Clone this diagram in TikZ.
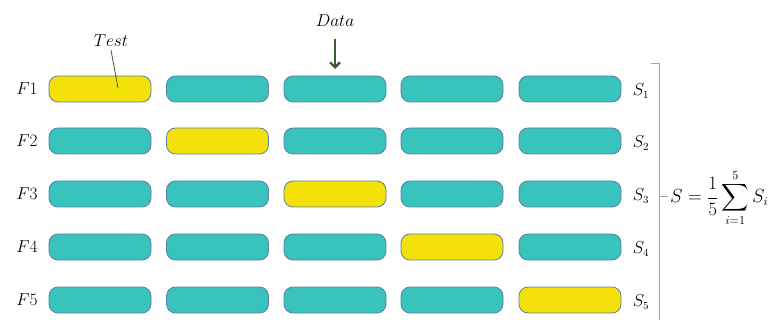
\documentclass[tikz,border=0pt]{standalone}
\usepackage{amsmath}
\usetikzlibrary{arrows.meta}
\definecolor{teal1}{HTML}{38C3BD}
\definecolor{yel1}{HTML}{F5E10A}
\definecolor{bord}{HTML}{5A7FA8}
\definecolor{arrgreen}{HTML}{3A5F2C}
\definecolor{brk}{HTML}{A6A6A6}
\begin{document}
\begin{tikzpicture}[x=1pt,y=-1pt,
  fold/.style={draw=bord, line width=0.8pt, rounded corners=9pt, minimum width=102pt, minimum height=26pt, inner sep=0pt, fill=teal1},
  testfold/.style={fold, fill=yel1},
  lbl/.style={font=\fontsize{16}{19}\selectfont, inner sep=0pt},
  brack/.style={draw=brk, line width=0.9pt}]
\useasboundingbox (0,0) rectangle (773,320);
\foreach \r/\y in {1/89,2/141,3/194,4/247,5/300}{
  \node[lbl] (F\r) at (27,\y) {$F\r$};
  \node[lbl] (S\r) at (641,\y+2) {$S_\r$};
  \foreach \c/\x in {1/100,2/217.5,3/335,4/452,5/570}{
    \ifnum\c=\r
      \node[testfold] (b\r\c) at (\x,\y) {};
    \else
      \node[fold] (b\r\c) at (\x,\y) {};
    \fi
  }
}
\node[lbl] (data) at (335,21) {$Data$};
\coordinate (datatop) at (335,39);
\draw[arrgreen, line width=2.4pt, -{Straight Barb[length=5pt,width=10pt]}] (datatop) -- (b13.north |- 0,69);
\node[lbl] (test) at (111,41) {$Test$};
\coordinate (testend) at (118,88);
\draw[arrgreen, line width=0.8pt] (test.south) ++(0,3) -- (testend);
\coordinate (bt) at (659,63);
\coordinate (btl) at (651,63);
\coordinate (bb) at (659,320);
\coordinate (bm) at (659,196);
\coordinate (bmr) at (668,196);
\draw[brack] (btl) -- (bt) -- (bb);
\draw[brack] (bm) -- (bmr);
\node[lbl, anchor=west, scale=1.1] (sum) at (670,198) {$S=\dfrac{1}{5}\displaystyle\sum_{i=1}^{5}S_i$};
\end{tikzpicture}
\end{document}
